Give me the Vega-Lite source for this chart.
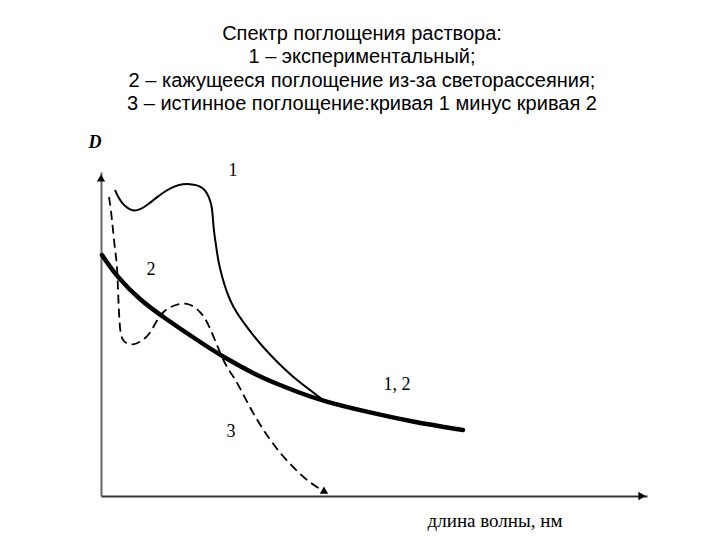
{
  "$schema": "https://vega.github.io/schema/vega-lite/v6.json",
  "autosize": "none",
  "width": 546,
  "height": 324,
  "padding": {"left": 101, "top": 172, "right": 73, "bottom": 44},
  "background": "white",
  "title": {
    "text": ["Спектр поглощения раствора:", "1 – экспериментальный;", "2 – кажущееся поглощение из-за светорассеяния;", "3 – истинное поглощение:кривая 1 минус кривая 2"],
    "anchor": "middle",
    "frame": "group",
    "dx": -12,
    "offset": 20,
    "font": "Liberation Sans",
    "fontSize": 20,
    "fontWeight": "normal",
    "color": "black",
    "lineHeight": 23.5
  },
  "config": {"view": {"stroke": null}},
  "datasets": {
    "curves": [
      {"curve": "1", "x": 14, "y": 306}, {"curve": "1", "x": 17, "y": 299}, {"curve": "1", "x": 21, "y": 293}, {"curve": "1", "x": 26, "y": 288}, {"curve": "1", "x": 32, "y": 285}, {"curve": "1", "x": 37, "y": 286}, {"curve": "1", "x": 42, "y": 288}, {"curve": "1", "x": 49, "y": 293}, {"curve": "1", "x": 56, "y": 299}, {"curve": "1", "x": 66, "y": 306}, {"curve": "1", "x": 74, "y": 310}, {"curve": "1", "x": 82, "y": 312}, {"curve": "1", "x": 89, "y": 312}, {"curve": "1", "x": 96, "y": 311}, {"curve": "1", "x": 102, "y": 308}, {"curve": "1", "x": 106, "y": 303}, {"curve": "1", "x": 109, "y": 296}, {"curve": "1", "x": 111, "y": 289}, {"curve": "1", "x": 112, "y": 276}, {"curve": "1", "x": 113, "y": 264}, {"curve": "1", "x": 115, "y": 251}, {"curve": "1", "x": 117, "y": 236}, {"curve": "1", "x": 121, "y": 219}, {"curve": "1", "x": 126, "y": 203}, {"curve": "1", "x": 132, "y": 189}, {"curve": "1", "x": 142, "y": 174}, {"curve": "1", "x": 152, "y": 161}, {"curve": "1", "x": 162, "y": 149}, {"curve": "1", "x": 176, "y": 134}, {"curve": "1", "x": 192, "y": 119}, {"curve": "1", "x": 209, "y": 106}, {"curve": "1", "x": 222, "y": 96},
      {"curve": "2", "x": 1, "y": 241}, {"curve": "2", "x": 16, "y": 219}, {"curve": "2", "x": 39, "y": 196}, {"curve": "2", "x": 62, "y": 179}, {"curve": "2", "x": 96, "y": 156}, {"curve": "2", "x": 122, "y": 139}, {"curve": "2", "x": 159, "y": 119}, {"curve": "2", "x": 179, "y": 111}, {"curve": "2", "x": 199, "y": 103}, {"curve": "2", "x": 222, "y": 95}, {"curve": "2", "x": 262, "y": 85}, {"curve": "2", "x": 312, "y": 74}, {"curve": "2", "x": 362, "y": 66},
      {"curve": "3", "x": 8, "y": 299}, {"curve": "3", "x": 10, "y": 286}, {"curve": "3", "x": 12, "y": 266}, {"curve": "3", "x": 14, "y": 246}, {"curve": "3", "x": 16, "y": 233}, {"curve": "3", "x": 17, "y": 206}, {"curve": "3", "x": 18, "y": 183}, {"curve": "3", "x": 19, "y": 166}, {"curve": "3", "x": 21, "y": 156}, {"curve": "3", "x": 26, "y": 152}, {"curve": "3", "x": 32, "y": 151}, {"curve": "3", "x": 39, "y": 154}, {"curve": "3", "x": 46, "y": 159}, {"curve": "3", "x": 51, "y": 166}, {"curve": "3", "x": 56, "y": 176}, {"curve": "3", "x": 62, "y": 184}, {"curve": "3", "x": 69, "y": 189}, {"curve": "3", "x": 77, "y": 192}, {"curve": "3", "x": 86, "y": 193}, {"curve": "3", "x": 94, "y": 189}, {"curve": "3", "x": 99, "y": 184}, {"curve": "3", "x": 104, "y": 178}, {"curve": "3", "x": 109, "y": 168}, {"curve": "3", "x": 116, "y": 151}, {"curve": "3", "x": 122, "y": 136}, {"curve": "3", "x": 129, "y": 124}, {"curve": "3", "x": 136, "y": 114}, {"curve": "3", "x": 146, "y": 94}, {"curve": "3", "x": 156, "y": 76}, {"curve": "3", "x": 167, "y": 59}, {"curve": "3", "x": 179, "y": 43}, {"curve": "3", "x": 191, "y": 30}, {"curve": "3", "x": 202, "y": 19}, {"curve": "3", "x": 214, "y": 10}, {"curve": "3", "x": 226, "y": 3}
    ],
    "labels": [
      {"label": "1", "x": 132, "y": 325},
      {"label": "2", "x": 50, "y": 226},
      {"label": "1, 2", "x": 296, "y": 111},
      {"label": "3", "x": 130, "y": 64}
    ]
  },
  "layer": [
    {
      "data": {"name": "curves"},
      "transform": [{"filter": "datum.curve === '2'"}],
      "mark": {"type": "line", "color": "black", "strokeWidth": 4.5, "interpolate": "basis", "strokeCap": "round"},
      "encoding": {
        "x": {"field": "x", "type": "quantitative", "scale": {"domain": [0, 546], "nice": false, "zero": false}, "axis": {"domain": true, "domainColor": "#333333", "domainWidth": 2, "ticks": false, "labels": false, "grid": false, "title": null}},
        "y": {"field": "y", "type": "quantitative", "scale": {"domain": [0, 324], "nice": false, "zero": false}, "axis": {"domain": true, "domainColor": "#666666", "domainWidth": 2, "ticks": false, "labels": false, "grid": false, "title": null}}
      }
    },
    {
      "data": {"name": "curves"},
      "transform": [{"filter": "datum.curve === '1'"}],
      "mark": {"type": "line", "color": "black", "strokeWidth": 2, "interpolate": "basis"},
      "encoding": {
        "x": {"field": "x", "type": "quantitative"},
        "y": {"field": "y", "type": "quantitative"}
      }
    },
    {
      "data": {"name": "curves"},
      "transform": [{"filter": "datum.curve === '3'"}],
      "mark": {"type": "line", "color": "black", "strokeWidth": 1.8, "strokeDash": [9, 5], "interpolate": "basis"},
      "encoding": {
        "x": {"field": "x", "type": "quantitative"},
        "y": {"field": "y", "type": "quantitative"}
      }
    },
    {
      "data": {"values": [{"x": 0, "y": 318, "shape": "triangle-up", "angle": 0}, {"x": 541, "y": 0, "shape": "triangle-right", "angle": 0}, {"x": 224, "y": 4, "shape": "triangle-right", "angle": 30}]},
      "mark": {"type": "point", "filled": true, "color": "black", "opacity": 1, "size": 70},
      "encoding": {
        "x": {"field": "x", "type": "quantitative"},
        "y": {"field": "y", "type": "quantitative"},
        "shape": {"field": "shape", "type": "nominal", "scale": null},
        "angle": {"field": "angle", "type": "quantitative", "scale": null}
      }
    },
    {
      "data": {"name": "labels"},
      "mark": {"type": "text", "font": "Liberation Serif", "fontSize": 18, "color": "black", "clip": false, "align": "center", "baseline": "middle"},
      "encoding": {
        "x": {"field": "x", "type": "quantitative"},
        "y": {"field": "y", "type": "quantitative"},
        "text": {"field": "label"}
      }
    },
    {
      "data": {"values": [{"label": "D", "x": -6, "y": 353}]},
      "mark": {"type": "text", "font": "Liberation Serif", "fontSize": 18, "fontStyle": "italic", "fontWeight": "bold", "color": "black", "clip": false, "align": "center", "baseline": "middle"},
      "encoding": {
        "x": {"field": "x", "type": "quantitative"},
        "y": {"field": "y", "type": "quantitative"},
        "text": {"field": "label"}
      }
    },
    {
      "data": {"values": [{"label": "длина волны, нм", "x": 394, "y": -25}]},
      "mark": {"type": "text", "font": "Liberation Serif", "fontSize": 19, "color": "black", "clip": false, "align": "center", "baseline": "middle"},
      "encoding": {
        "x": {"field": "x", "type": "quantitative"},
        "y": {"field": "y", "type": "quantitative"},
        "text": {"field": "label"}
      }
    }
  ]
}
